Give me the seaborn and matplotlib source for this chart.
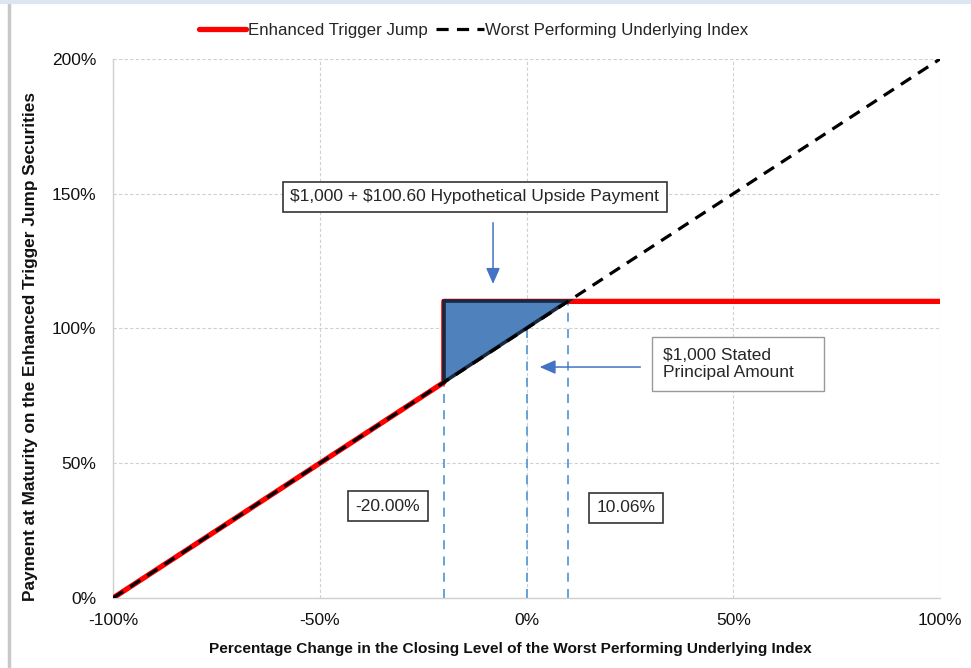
import matplotlib
matplotlib.use("Agg")
import matplotlib.pyplot as plt
import matplotlib.ticker as mtick
from matplotlib.patches import Rectangle
import seaborn as sns
import pandas as pd

# payoff data (% change in worst performing index -> payment in % of principal)
trigger = -20.00
upside = 10.06
jump_x = [-100, trigger, trigger, 100]
jump_y = [0, 100 + trigger, 100 + upside, 100 + upside]
index_x = [-100, 100]
index_y = [0, 200]
tri_x = [trigger, trigger, upside]
tri_y = [100 + trigger, 100 + upside, 100 + upside]
ref_x = [trigger, 0, upside]

sns.set_theme(style="white")
plt.rcParams['font.family'] = ['Liberation Sans', 'DejaVu Sans']

fig = plt.figure(figsize=(9.71, 6.68), dpi=100)
ax = fig.add_axes([0.1164, 0.1048, 0.8517, 0.8069])

red = pd.DataFrame({'x': jump_x, 'y': jump_y})
sns.lineplot(data=red, x='x', y='y', estimator=None, sort=False, color='#FF0000',
             lw=3.8, ax=ax, label='Enhanced Trigger Jump', zorder=3)

ax.fill(tri_x, tri_y, facecolor='#4F81BD', edgecolor='#17283F', lw=2.6, zorder=4)

idx = pd.DataFrame({'x': index_x, 'y': index_y})
sns.lineplot(data=idx, x='x', y='y', color='black', lw=2.3, ax=ax, zorder=5,
             label='Worst Performing Underlying Index', linestyle=(0, (3.8, 2.6)))

for rx in ref_x:
    ax.plot([rx, rx], [0, 100 + rx], color='#5B9BD5', lw=1.3, linestyle=(0, (5, 4)), zorder=2)

ax.set_xlim(-100, 100)
ax.set_ylim(0, 200)
ax.set_xticks([-100, -50, 0, 50, 100])
ax.set_yticks([0, 50, 100, 150, 200])
ax.xaxis.set_major_formatter(mtick.FuncFormatter(lambda v, p: f'{v:.0f}%'))
ax.yaxis.set_major_formatter(mtick.FuncFormatter(lambda v, p: f'{v:.0f}%'))
ax.tick_params(labelsize=12.5, colors='#111111', length=0)
ax.tick_params(axis='y', pad=12)
ax.tick_params(axis='x', pad=11)
ax.grid(True, color='#D0D0D0', linestyle=(0, (3, 2)), lw=0.8, zorder=0)
for s in ['top', 'right']:
    ax.spines[s].set_visible(False)
for s in ['left', 'bottom']:
    ax.spines[s].set_color('#D0D0D0')
    ax.spines[s].set_linewidth(1.0)

ax.set_xlabel('Percentage Change in the Closing Level of the Worst Performing Underlying Index',
              fontsize=11.1, fontweight='bold', color='#111111')
ax.set_ylabel('Payment at Maturity on the Enhanced Trigger Jump Securities',
              fontsize=12.4, fontweight='bold', color='#111111')
ax.xaxis.set_label_coords(0.481, -0.081)
ax.yaxis.set_label_coords(-0.0907, 0.466)

box = dict(boxstyle='square,pad=0.45', facecolor='white', edgecolor='#333333', lw=1.2)
ax.text(-12.5, 148.8, '\\$1,000 + \\$100.60 Hypothetical Upside Payment', ha='center', va='center',
        fontsize=12.5, bbox=box, zorder=6)
ax.add_patch(Rectangle((30.35, 76.8), 41.6, 20.05, facecolor='white', edgecolor='#999999',
                       lw=1.0, zorder=6))
ax.text(33.0, 86.8, '\\$1,000 Stated\nPrincipal Amount', ha='left', va='center',
        fontsize=12.5, linespacing=1.1, zorder=7)
ax.text(-33.5, 34.1, '-20.00%', ha='center', va='center', fontsize=12.5, bbox=box, zorder=6)
ax.text(24.1, 33.4, '10.06%', ha='center', va='center', fontsize=12.5, bbox=box, zorder=6)

arrow = dict(arrowstyle='-|>,head_length=0.8,head_width=0.35', color='#4472C4', lw=1.1)
ax.annotate('', xy=(-8.1, 115.5), xytext=(-8.1, 140.3), arrowprops=arrow, zorder=6)
ax.annotate('', xy=(2.5, 85.7), xytext=(28.2, 85.7), arrowprops=arrow, zorder=6)

leg = ax.legend(loc='lower center', bbox_to_anchor=(0.436, 1.011), ncol=2, frameon=False,
                fontsize=12.2, handlelength=2.8, handletextpad=0.1, columnspacing=0.5)

fig.add_artist(plt.Line2D([0.009, 0.009], [0, 0.995], color='#C8C8C8', lw=2.5))
fig.add_artist(plt.Line2D([0, 1], [0.997, 0.997], color='#DCE6F0', lw=3))

fig.savefig('out.png', dpi=100)
